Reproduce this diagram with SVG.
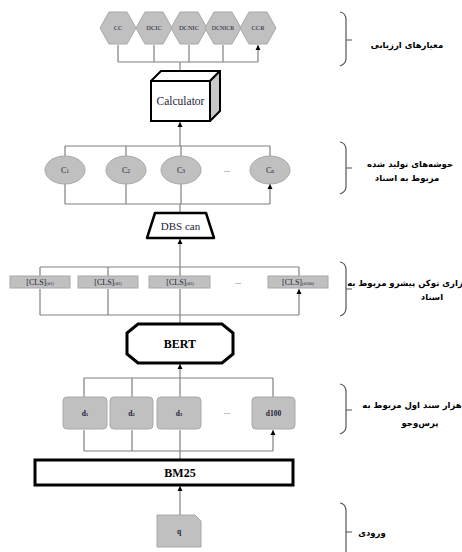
<svg xmlns="http://www.w3.org/2000/svg" width="462" height="552" viewBox="0 0 462 552">
<defs>
<marker id="ah" markerWidth="6" markerHeight="6" refX="5" refY="3" orient="auto" markerUnits="userSpaceOnUse">
<path d="M0,0.5 L5,3 L0,5.5 Z" fill="#000"/>
</marker>
<style>
.c{stroke:#808080;stroke-width:1.2;fill:none}
.a{stroke:#808080;stroke-width:1.2;fill:none;marker-end:url(#ah)}
.g{fill:#c0c0c0;stroke:#a8a8a8;stroke-width:1}
.k{fill:#fff;stroke:#000;stroke-width:3}
.s{font-family:"Liberation Serif","Times New Roman",serif;fill:#1c1c3a;text-anchor:middle}
.b{font-family:"Liberation Serif","Times New Roman",serif;fill:#000;text-anchor:middle;font-weight:bold}
.fa{font-family:"DejaVu Sans","Noto Sans",sans-serif;font-weight:bold;font-size:8.5px;fill:#000;text-anchor:middle}
.br{stroke:#555;stroke-width:1.2;fill:none}
</style>
</defs>
<rect width="462" height="552" fill="#fff"/>

<g id="connectors">
<path class="c" d="M118,62 H258 M180,62 V71"/>
<path class="a" d="M118,62 V45 M154,62 V45 M189,62 V45 M223,62 V45 M258,62 V45"/>
<path class="a" d="M180,146 V122"/>
<path class="c" d="M65,146 H270 M65,146 V156 M126,146 V156 M181,146 V156 M270,146 V156"/>
<path class="c" d="M65,204 H270 M180,204 V213"/>
<path class="a" d="M65,204 V184 M126,204 V184 M181,204 V184 M270,204 V184"/>
<path class="a" d="M180,267 V239"/>
<path class="c" d="M40,267 H299 M40,267 V276 M108,267 V276 M180,267 V276 M299,267 V276"/>
<path class="c" d="M40,315 H299 M180,315 V324"/>
<path class="a" d="M40,315 V289 M108,315 V289 M180,315 V289 M299,315 V289"/>
<path class="a" d="M180,378 V364"/>
<path class="c" d="M84,378 H273 M84,378 V397 M132,378 V397 M180,378 V397 M273,378 V397"/>
<path class="c" d="M84,451 H273 M180,451 V460"/>
<path class="a" d="M84,451 V430 M132,451 V430 M180,451 V430 M273,451 V430"/>
<path class="a" d="M180,515 V486"/>
</g>

<g id="hex-cc"><polygon class="g" points="100,28 109,12 127,12 136,28 127,44 109,44"/><text class="s" x="118" y="30" font-size="6.5">CC</text></g>
<g id="hex-dcic"><polygon class="g" points="136,28 145,12 163,12 172,28 163,44 145,44"/><text class="s" x="154" y="30" font-size="6.5">DCIC</text></g>
<g id="hex-dcnic"><polygon class="g" points="171,28 180,12 198,12 207,28 198,44 180,44"/><text class="s" x="189" y="30" font-size="6.5">DCNIC</text></g>
<g id="hex-dcnicr"><polygon class="g" points="205,28 214,12 232,12 241,28 232,44 214,44"/><text class="s" x="223" y="30" font-size="6">DCNICR</text></g>
<g id="hex-ccr"><polygon class="g" points="240,28 249,12 267,12 276,28 267,44 249,44"/><text class="s" x="258" y="30" font-size="6.5">CCR</text></g>

<g id="calculator">
<polygon points="151,81 161,71 220,71 210,81" fill="#fff" stroke="#000" stroke-width="2" stroke-linejoin="round"/>
<polygon points="210,81 220,71 220,111 210,121" fill="#c8c8c8" stroke="#000" stroke-width="2" stroke-linejoin="round"/>
<rect x="151" y="81" width="59" height="40" fill="#fff" stroke="#000" stroke-width="2"/>
<text class="s" x="180.5" y="105" font-size="11.5">Calculator</text>
</g>

<g id="c1"><ellipse class="g" cx="65" cy="170" rx="20" ry="14"/><text class="s" x="65" y="172.5" font-size="8">C<tspan font-size="5.5">1</tspan></text></g>
<g id="c2"><ellipse class="g" cx="126" cy="170" rx="20" ry="14"/><text class="s" x="126" y="172.5" font-size="8">C<tspan font-size="5.5">2</tspan></text></g>
<g id="c3"><ellipse class="g" cx="181" cy="170" rx="20" ry="14"/><text class="s" x="181" y="172.5" font-size="8">C<tspan font-size="5.5">3</tspan></text></g>
<text class="s" x="227" y="172" font-size="8">...</text>
<g id="cn"><ellipse class="g" cx="270" cy="170" rx="20" ry="14"/><text class="s" x="270" y="172.5" font-size="8">C<tspan font-size="5.5">n</tspan></text></g>

<g id="dbscan">
<polygon points="155,213 206,213 214,238 147,238" fill="#fff" stroke="#000" stroke-width="2.5" stroke-linejoin="round"/>
<text class="s" x="180.5" y="230" font-size="11">DBS can</text>
</g>

<g id="cls1"><rect class="g" x="10" y="276" width="60" height="12"/><text class="s" x="40" y="285" font-size="8">[CLS]<tspan font-size="4.5">(d1)</tspan></text></g>
<g id="cls2"><rect class="g" x="78" y="276" width="60" height="12"/><text class="s" x="108" y="285" font-size="8">[CLS]<tspan font-size="4.5">(d2)</tspan></text></g>
<g id="cls3"><rect class="g" x="149" y="276" width="61" height="12"/><text class="s" x="180" y="285" font-size="8">[CLS]<tspan font-size="4.5">(d3)</tspan></text></g>
<text class="s" x="238" y="284" font-size="8">...</text>
<g id="cls100"><rect class="g" x="268" y="276" width="60" height="12"/><text class="s" x="298" y="285" font-size="8">[CLS]<tspan font-size="4.5">(d100)</tspan></text></g>

<g id="bert">
<polygon class="k" points="138,324 222,324 233,333 233,354 222,363 138,363 127,354 127,333" stroke-linejoin="miter"/>
<text class="b" x="180" y="347.5" font-size="12">BERT</text>
</g>

<g id="d1"><rect class="g" x="63" y="397" width="44" height="32" rx="4"/><text class="s" x="85" y="416" font-size="7.5" font-weight="bold">d<tspan font-size="5">1</tspan></text></g>
<g id="d2"><rect class="g" x="110" y="397" width="43" height="32" rx="4"/><text class="s" x="131.5" y="416" font-size="7.5" font-weight="bold">d<tspan font-size="5">2</tspan></text></g>
<g id="d3"><rect class="g" x="157" y="397" width="44" height="32" rx="4"/><text class="s" x="179" y="416" font-size="7.5" font-weight="bold">d<tspan font-size="5">3</tspan></text></g>
<text class="s" x="227" y="414" font-size="8">...</text>
<g id="d100"><rect class="g" x="252" y="397" width="43" height="32" rx="4"/><text class="s" x="273.5" y="416" font-size="7.5" font-weight="bold">d100</text></g>

<g id="bm25">
<rect class="k" x="35" y="460" width="258" height="25"/>
<text class="b" x="180" y="477" font-size="12">BM25</text>
</g>

<g id="q">
<polygon class="g" points="157,515 195,515 201,521 201,547 157,547"/>
<text class="s" x="179" y="534" font-size="7.5" font-weight="bold">q</text>
</g>

<g id="labels">
<path class="br" d="M340,12 Q346,13 346,20 V58 Q346,64 340,66 M346,40 H352"/>
<text class="fa" x="407" y="48">معیارهای ارزیابی</text>
<path class="br" d="M340,142 Q346,143 346,150 V186 Q346,192 340,194 M346,168 H352"/>
<text class="fa" x="410" y="167">خوشه‌های تولید شده</text>
<text class="fa" x="407" y="181">مربوط به اسناد</text>
<path class="br" d="M340,262 Q346,263 346,270 V308 Q346,314 340,316 M346,289 H352"/>
<text class="fa" x="405" y="286" font-size="7.5">زاری توکن پیشرو مربوط به</text>
<text class="fa" x="432" y="300">اسناد</text>
<path class="br" d="M340,384 Q346,385 346,392 V426 Q346,432 340,434 M346,410 H352"/>
<text class="fa" x="412" y="408">هزار سند اول مربوط به</text>
<text class="fa" x="420" y="426">پرس‌وجو</text>
<path class="br" d="M340,503 Q346,504 346,511 V560 M346,532 H352"/>
<text class="fa" x="372" y="536">ورودی</text>
</g>
</svg>
